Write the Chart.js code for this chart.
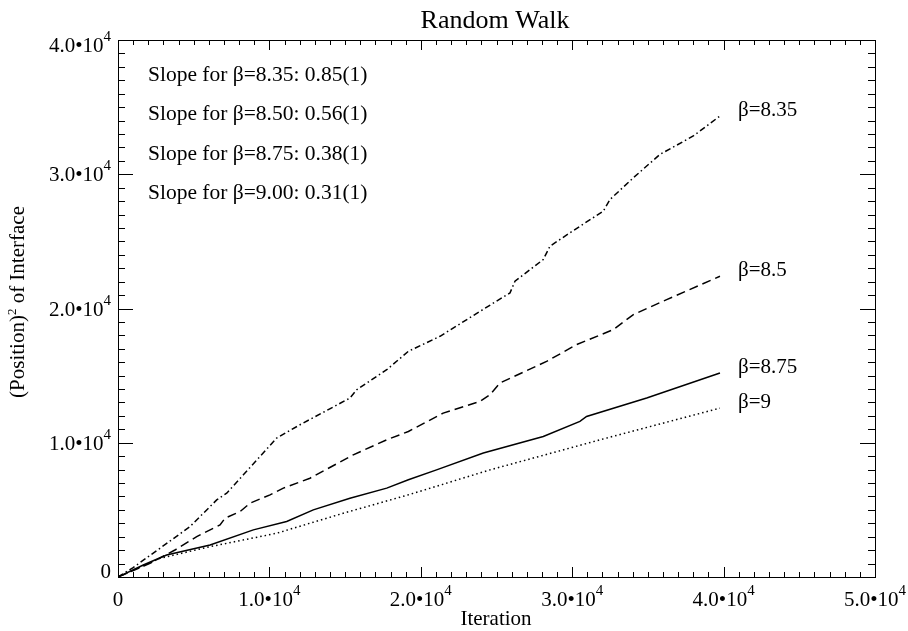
<!DOCTYPE html>
<html>
<head>
<meta charset="utf-8">
<script src="https://cdn.jsdelivr.net/npm/chart.js@4.4.1/dist/chart.umd.min.js"></script>
<style>
  html, body { margin: 0; padding: 0; background: #fff; }
  #wrap { width: 908px; height: 631px; }
</style>
</head>
<body>
<div id="wrap"><canvas id="walkChart" width="908" height="631"></canvas></div>
<script>
// iterations (x) and squared interface position (y) for each beta
const iter835 = [0, 1000, 2770, 4750, 6520, 7180, 8280, 10480, 12020, 15320, 15770, 17750, 19180, 21270, 23910, 25890, 26220, 28090, 28530, 29850, 32050, 32500, 34040, 34920, 35800, 38000, 39760];
const pos835 = [0, 700, 2140, 3750, 5740, 6240, 7610, 10350, 11340, 13330, 13950, 15440, 16810, 17930, 19790, 21160, 22030, 23650, 24640, 25640, 27250, 28120, 29740, 30610, 31480, 32850, 34340];

const iter850 = [0, 2110, 3760, 5200, 6740, 7070, 8060, 8720, 10040, 10920, 12680, 15540, 17750, 19180, 21480, 23910, 24570, 25230, 28310, 30290, 32720, 34040, 36240, 39760];
const pos850 = [0, 1020, 2010, 3010, 3880, 4380, 4870, 5500, 6120, 6620, 7360, 9100, 10220, 10840, 12210, 13080, 13580, 14450, 16060, 17310, 18430, 19550, 20660, 22400];

const iter875 = [0, 1670, 3210, 6080, 8940, 11140, 12900, 15320, 17750, 19180, 21040, 24130, 28090, 30510, 30950, 34920, 39760];
const pos875 = [0, 895, 1640, 2390, 3510, 4130, 5000, 5870, 6620, 7240, 7980, 9230, 10470, 11590, 11960, 13330, 15200];

const iter900 = [0, 2770, 6080, 10480, 14880, 19180, 24570, 31840, 39760];
const pos900 = [0, 1390, 2260, 3260, 4750, 6120, 7980, 10220, 12580];

const seriesLabels = ['β=8.35', 'β=8.5', 'β=8.75', 'β=9'];
const slopeNotes = ['Slope for β=8.35: 0.85(1)', 'Slope for β=8.50: 0.56(1)', 'Slope for β=8.75: 0.38(1)', 'Slope for β=9.00: 0.31(1)'];
const tickMantissa = ['0', '1.0', '2.0', '3.0', '4.0', '5.0'];

const serif = '"Liberation Serif", "DejaVu Serif", serif';

function toPoints(xs, ys) {
  return xs.map((x, i) => ({ x: x, y: ys[i] }));
}

function makeSet(label, xs, ys, dash) {
  return {
    label: label,
    data: toPoints(xs, ys),
    borderColor: '#000',
    borderWidth: 1.5,
    borderDash: dash,
    pointRadius: 0,
    tension: 0,
    fill: false,
  };
}

// draws "m•10" with a raised exponent, or a plain "0"
function drawPow(ctx, mant, x, y, align) {
  const base = mant === '0' ? '0' : mant + '•10';
  const sup = mant === '0' ? '' : '4';
  ctx.font = '21px ' + serif;
  const wb = ctx.measureText(base).width;
  ctx.font = '15px ' + serif;
  const ws = ctx.measureText(sup).width;
  const total = wb + ws;
  let left = x - total / 2;
  if (align === 'right') left = x - total;
  ctx.textAlign = 'left';
  ctx.textBaseline = 'alphabetic';
  ctx.font = '21px ' + serif;
  ctx.fillText(base, left, y);
  ctx.font = '15px ' + serif;
  ctx.fillText(sup, left + wb, y - 11);
}

const framePlugin = {
  id: 'framePlugin',
  afterDraw(chart) {
    const ctx = chart.ctx;
    const a = chart.chartArea;
    const xs = chart.scales.x;
    const ys = chart.scales.y;
    ctx.save();
    ctx.fillStyle = '#000';
    ctx.strokeStyle = '#000';
    ctx.lineWidth = 1;

    // box
    ctx.strokeRect(a.left + 0.5, a.top + 0.5, a.right - a.left, a.bottom - a.top);

    // inward ticks, minor every 1000
    ctx.beginPath();
    for (let v = 0; v <= 50000; v += 1000) {
      const px = Math.round(xs.getPixelForValue(v)) + 0.5;
      const len = v % 10000 === 0 ? 10 : 5;
      ctx.moveTo(px, a.bottom); ctx.lineTo(px, a.bottom - len);
      ctx.moveTo(px, a.top); ctx.lineTo(px, a.top + len);
    }
    for (let v = 0; v <= 40000; v += 1000) {
      const py = Math.round(ys.getPixelForValue(v)) + 0.5;
      const len = v % 10000 === 0 ? 15 : 7;
      ctx.moveTo(a.left, py); ctx.lineTo(a.left + len, py);
      ctx.moveTo(a.right, py); ctx.lineTo(a.right - len, py);
    }
    ctx.stroke();

    // tick labels
    xs.ticks.forEach((t, i) => {
      drawPow(ctx, tickMantissa[i], xs.getPixelForValue(t.value), a.bottom + 29, 'center');
    });
    ys.ticks.forEach((t, i) => {
      let py = ys.getPixelForValue(t.value) + 7;
      if (i === 0) py = a.bottom + 1;
      if (i === ys.ticks.length - 1) py = a.top + 12;
      drawPow(ctx, tickMantissa[i], a.left - 7, py, 'right');
    });

    // title and axis titles
    ctx.textAlign = 'center';
    ctx.textBaseline = 'alphabetic';
    ctx.font = '26px ' + serif;
    ctx.fillText('Random Walk', 495, 28);
    ctx.font = '21px ' + serif;
    ctx.fillText('Iteration', 496, 625);

    ctx.save();
    ctx.translate(24, 302);
    ctx.rotate(-Math.PI / 2);
    ctx.font = '21px ' + serif;
    const p1 = '(Position)';
    const p2 = ' of Interface';
    const w1 = ctx.measureText(p1).width;
    const w2 = ctx.measureText(p2).width;
    ctx.font = '13px ' + serif;
    const wsup = ctx.measureText('2').width;
    let sx = -(w1 + wsup + w2) / 2;
    ctx.textAlign = 'left';
    ctx.font = '21px ' + serif;
    ctx.fillText(p1, sx, 0);
    ctx.font = '13px ' + serif;
    ctx.fillText('2', sx + w1, -8);
    ctx.font = '21px ' + serif;
    ctx.fillText(p2, sx + w1 + wsup, 0);
    ctx.restore();

    // slope notes
    ctx.textAlign = 'left';
    ctx.textBaseline = 'alphabetic';
    ctx.font = '21.5px ' + serif;
    slopeNotes.forEach((s, i) => {
      ctx.fillText(s, 148, 81 + i * 39.3);
    });

    // series names at the end of each curve
    ctx.font = '21px ' + serif;
    chart.data.datasets.forEach((ds, i) => {
      const last = ds.data[ds.data.length - 1];
      ctx.fillText(seriesLabels[i], xs.getPixelForValue(last.x) + 18, ys.getPixelForValue(last.y));
    });
    ctx.restore();
  }
};

const config = {
  type: 'line',
  data: {
    datasets: [
      makeSet(seriesLabels[0], iter835, pos835, [6, 3, 1.5, 3]),
      makeSet(seriesLabels[1], iter850, pos850, [9, 5]),
      makeSet(seriesLabels[2], iter875, pos875, []),
      makeSet(seriesLabels[3], iter900, pos900, [1.5, 3]),
    ],
  },
  options: {
    responsive: false,
    devicePixelRatio: 1,
    animation: false,
    layout: { padding: { left: 118, top: 40, right: 33, bottom: 54 } },
    plugins: { legend: { display: false }, tooltip: { enabled: false } },
    scales: {
      x: { type: 'linear', display: false, min: 0, max: 50000, ticks: { stepSize: 10000 } },
      y: { type: 'linear', display: false, min: 0, max: 40000, ticks: { stepSize: 10000 } },
    },
  },
  plugins: [framePlugin],
};

const chart = new Chart(document.getElementById('walkChart').getContext('2d'), config);
</script>
</body>
</html>
